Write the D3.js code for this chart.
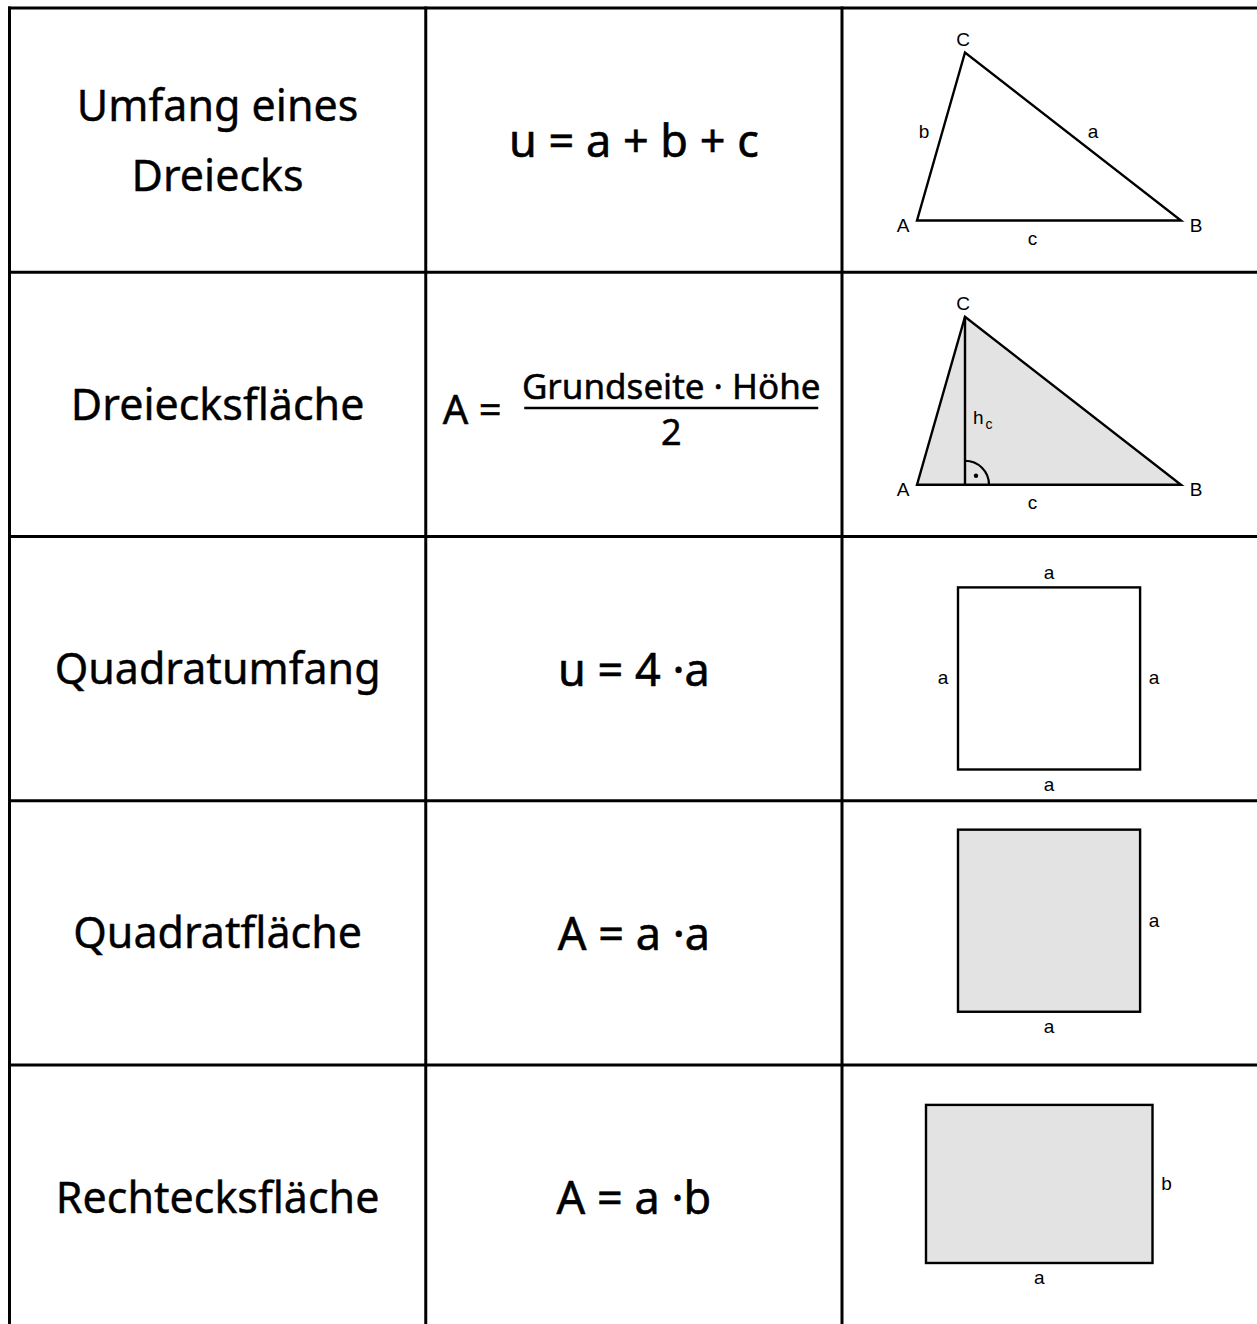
<!DOCTYPE html>
<html>
<head>
<meta charset="utf-8">
<script src="https://cdn.jsdelivr.net/npm/d3@7"></script>
<style>
  body { margin: 0; background: #fff; }
  svg { display: block; }
</style>
</head>
<body>
<script>
// table content
var rowLabels = [["Umfang eines", "Dreiecks"], ["Dreiecksfläche"], ["Quadratumfang"], ["Quadratfläche"], ["Rechtecksfläche"]];
var formulas = ["u = a + b + c", null, "u = 4 ·a", "A = a ·a", "A = a ·b"];
var fracLeft = "A =";
var fracTop = "Grundseite · Höhe";
var fracBottom = "2";

// shapes in drawing units (1 unit = 30px)
var triangle = [["A", 0, 0], ["B", 8.8, 0], ["C", 1.6, 5.6]];
var squareSide = 6.07;
var rectSides = [7.55, 5.27];

var width = 1257, height = 1324;
var row = d3.scaleLinear().domain([0, 5]).range([8, 8 + 5 * 264.25]);
var col = d3.scaleLinear().domain([0, 3]).range([9.5, 9.5 + 3 * 416.25]);
var unit = d3.scaleLinear().domain([0, 1]).range([0, 30]);

var svg = d3.select("body").append("svg")
  .attr("width", width)
  .attr("height", height);

var textFont = "'Noto Sans', sans-serif";
var labelFont = "'Liberation Sans', Arial, sans-serif";

// first column: names
rowLabels.forEach(function(lines, i) {
  var cy = (row(i) + row(i + 1)) / 2;
  var cx = (col(0) + col(1)) / 2;
  svg.append("g").selectAll("text")
    .data(lines)
    .enter()
    .append("text")
    .attr("x", cx)
    .attr("y", function(d, j) { return cy + 15.5 + (j - (lines.length - 1) / 2) * 70; })
    .attr("text-anchor", "middle")
    .attr("font-family", textFont)
    .attr("font-size", "43px")
    .attr("fill", "#000")
    .attr("stroke", "#000")
    .attr("stroke-width", 0.4)
    .text(function(d) { return d; });
});

// second column: formulas
formulas.forEach(function(f, i) {
  var cy = (row(i) + row(i + 1)) / 2;
  var cx = (col(1) + col(2)) / 2;
  if (f === null) return;
  svg.append("text")
    .attr("x", cx)
    .attr("y", cy + 17)
    .attr("text-anchor", "middle")
    .attr("font-family", textFont)
    .attr("font-size", "45px")
    .attr("stroke", "#000")
    .attr("stroke-width", 0.6)
    .text(f);
});

// fraction in row 2
(function() {
  var cy = (row(1) + row(2)) / 2;
  var barX0 = col(1) + 98.5, barX1 = col(1) + 392.5;
  var barY = cy + 3.5;
  var g = svg.append("g")
    .attr("font-family", textFont)
    .attr("fill", "#000")
    .attr("stroke", "#000")
    .attr("stroke-width", 0.5);
  g.append("text")
    .attr("x", col(1) + 17)
    .attr("y", cy + 20)
    .attr("font-size", "40px")
    .text(fracLeft);
  g.append("line")
    .attr("x1", barX0).attr("x2", barX1)
    .attr("y1", barY).attr("y2", barY)
    .attr("stroke-width", 2.5);
  g.append("text")
    .attr("x", (barX0 + barX1) / 2)
    .attr("y", barY - 9)
    .attr("text-anchor", "middle")
    .attr("font-size", "35px")
    .text(fracTop);
  g.append("text")
    .attr("x", (barX0 + barX1) / 2)
    .attr("y", barY + 37)
    .attr("text-anchor", "middle")
    .attr("font-size", "36px")
    .text(fracBottom);
})();

// third column: diagrams
function origin(i, dx, dy) {
  return [col(2) + dx, row(i) + dy];
}

function addLabel(g, x, y, txt, anchor) {
  return g.append("text")
    .attr("x", x)
    .attr("y", y)
    .attr("text-anchor", anchor || "middle")
    .attr("font-family", labelFont)
    .attr("font-size", "19px")
    .attr("fill", "#000")
    .text(txt);
}

function drawTriangle(i, filled) {
  var o = origin(i, 75, 212.5);
  var pts = {};
  triangle.forEach(function(p) {
    pts[p[0]] = [o[0] + unit(p[1]), o[1] - unit(p[2])];
  });
  var g = svg.append("g");
  g.append("path")
    .attr("d", d3.line()(["A", "B", "C"].map(function(k) { return pts[k]; })) + "Z")
    .attr("fill", filled ? "#e3e3e3" : "none")
    .attr("stroke", "#000")
    .attr("stroke-width", 2.4)
    .attr("stroke-linejoin", "miter");
  addLabel(g, pts.A[0] - 14, pts.A[1] + 11, "A");
  addLabel(g, pts.B[0] + 15, pts.B[1] + 11, "B");
  addLabel(g, pts.C[0] - 2, pts.C[1] - 7, "C");
  addLabel(g, pts.A[0] + unit(3.85), pts.A[1] + 24, "c");
  if (!filled) {
    addLabel(g, (pts.A[0] + pts.C[0]) / 2 - 17, (pts.A[1] + pts.C[1]) / 2 + 1, "b");
    addLabel(g, (pts.B[0] + pts.C[0]) / 2 + 20, (pts.B[1] + pts.C[1]) / 2 + 1, "a");
  } else {
    var foot = [pts.C[0], pts.A[1]];
    g.append("line")
      .attr("x1", pts.C[0]).attr("y1", pts.C[1])
      .attr("x2", foot[0]).attr("y2", foot[1])
      .attr("stroke", "#000")
      .attr("stroke-width", 2.4);
    g.append("path")
      .attr("transform", "translate(" + foot[0] + "," + foot[1] + ")")
      .attr("d", d3.arc()({ innerRadius: 24, outerRadius: 24, startAngle: 0, endAngle: Math.PI / 2 }))
      .attr("fill", "none")
      .attr("stroke", "#000")
      .attr("stroke-width", 2.2);
    g.append("circle")
      .attr("cx", foot[0] + 11)
      .attr("cy", foot[1] - 9)
      .attr("r", 2.2)
      .attr("fill", "#000");
    var h = addLabel(g, foot[0] + 8, foot[1] - 61, "h", "start");
    h.append("tspan")
      .attr("dx", 2)
      .attr("dy", 5)
      .attr("font-size", "14px")
      .text("c");
  }
}

function drawRect(i, w, hgt, dx, dy, filled, labels) {
  var o = origin(i, dx, dy);
  var x0 = o[0], y1 = o[1];
  var x1 = x0 + unit(w), y0 = y1 - unit(hgt);
  var g = svg.append("g");
  g.append("rect")
    .attr("x", x0).attr("y", y0)
    .attr("width", unit(w)).attr("height", unit(hgt))
    .attr("fill", filled ? "#e3e3e3" : "none")
    .attr("stroke", "#000")
    .attr("stroke-width", 2.4);
  var mx = (x0 + x1) / 2, my = (y0 + y1) / 2;
  if (labels.top) addLabel(g, mx, y0 - 8, labels.top);
  if (labels.bottom) addLabel(g, mx, y1 + 21, labels.bottom);
  if (labels.left) addLabel(g, x0 - 15, my + 6, labels.left);
  if (labels.right) addLabel(g, x1 + 14, my + 6, labels.right);
}

drawTriangle(0, false);
drawTriangle(1, true);
drawRect(2, squareSide, squareSide, 116, 233, false, { top: "a", bottom: "a", left: "a", right: "a" });
drawRect(3, squareSide, squareSide, 116, 211, true, { bottom: "a", right: "a" });
drawRect(4, rectSides[0], rectSides[1], 84, 198, true, { bottom: "a", right: "b" });

// table grid
var hLines = d3.range(0, 5);
var vLines = d3.range(0, 3);
svg.append("g").selectAll("line.h")
  .data(hLines)
  .enter()
  .append("line")
  .attr("x1", col(0) - 1.5).attr("x2", width)
  .attr("y1", function(d) { return row(d); })
  .attr("y2", function(d) { return row(d); })
  .attr("stroke", "#000")
  .attr("stroke-width", 3);
svg.append("g").selectAll("line.v")
  .data(vLines)
  .enter()
  .append("line")
  .attr("x1", function(d) { return col(d); })
  .attr("x2", function(d) { return col(d); })
  .attr("y1", row(0) - 1.5).attr("y2", height)
  .attr("stroke", "#000")
  .attr("stroke-width", 3);
</script>
</body>
</html>
